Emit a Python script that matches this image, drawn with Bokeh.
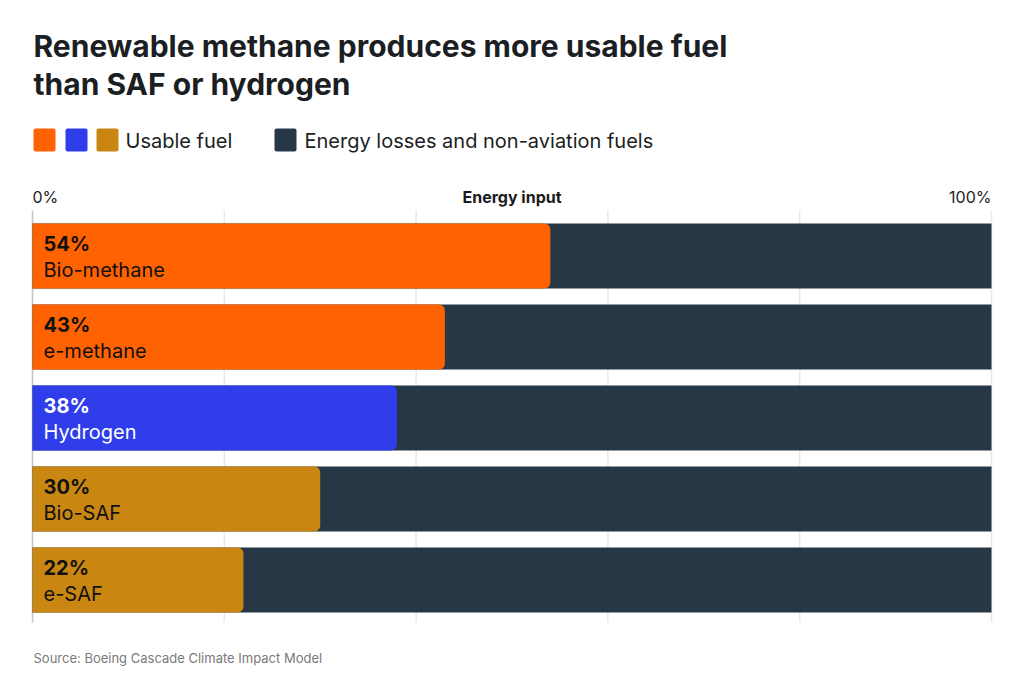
from bokeh.plotting import figure
from bokeh.models import Range1d, ColumnDataSource
from bokeh.core.properties import value
from bokeh.embed import file_html
from bokeh.resources import INLINE

# ---- data ----
fuels = ["Bio-methane", "e-methane", "Hydrogen", "Bio-SAF", "e-SAF"]
usable = [54, 43, 38, 30, 22]
bar_colors = ["#ff6200", "#ff6200", "#2f3deb", "#c98712", "#c98712"]
label_colors = ["#111111", "#111111", "#ffffff", "#111111", "#111111"]
ticks = [0, 20, 40, 60, 80, 100]
loss_color = "#263746"

title_lines = ["Renewable methane produces more usable fuel", "than SAF or hydrogen"]
legend_colors = ["#ff6200", "#2f3deb", "#c98712"]
source_note = "Source: Boeing Cascade Climate Impact Model"

FONT = "Inter"
W, H = 1024, 693
LEFT, RIGHT = 32, 991          # pixel span of 0% .. 100%
S = (RIGHT - LEFT) / 100.0     # pixels per percentage point


def px(xpix):
    """horizontal pixel -> data x"""
    return (xpix - LEFT) / S


p = figure(width=W, height=H, output_backend="svg", toolbar_location=None,
           x_range=Range1d(px(0), px(W)), y_range=Range1d(H, 0),
           x_axis_type=None, y_axis_type=None, min_border=0)
p.outline_line_color = None
p.xgrid.visible = False
p.ygrid.visible = False
p.background_fill_color = "white"

# bar geometry (vertical, in pixels)
first_top, pitch, bar_h = 223, 81, 65
tops = [first_top + i * pitch for i in range(len(fuels))]
centers = [t + bar_h / 2 for t in tops]

# vertical gridlines (the zero line slightly darker)
grid_colors = ["#c4c4c4" if t == 0 else "#e8e8e8" for t in ticks]
p.segment(x0=ticks, x1=ticks, y0=[210] * len(ticks), y1=[622] * len(ticks),
          line_color=grid_colors, line_width=1.5)

src = ColumnDataSource(dict(
    y=centers, usable=usable, color=bar_colors, lcolor=label_colors,
    pct=[f"{v}%" for v in usable], name=fuels,
    ypct=[t + 20 for t in tops], yname=[t + 46 for t in tops],
))

# full energy input (background) and usable share
p.hbar(y="y", left=0, right=100, height=bar_h, source=src,
       fill_color=loss_color, line_color=None)
p.hbar(y="y", left=0, right="usable", height=bar_h, source=src,
       fill_color="color", line_color=None, border_radius=(0, 6, 6, 0))

# in-bar labels
p.text(x=px(43), y="ypct", text="pct", source=src, text_color="lcolor",
       text_font=value(FONT), text_font_size="20px", text_font_style="bold",
       text_baseline="alphabetic")
p.text(x=px(43), y="yname", text="name", source=src, text_color="lcolor",
       text_font=value(FONT), text_font_size="20px",
       text_baseline="alphabetic")

# axis header row
p.text(x=[0], y=[196], text=["0%"], text_font=value(FONT), text_font_size="16px",
       text_color="#222222", text_align="left", text_baseline="alphabetic")
p.text(x=[50], y=[196], text=["Energy input"], text_font=value(FONT),
       text_font_size="16px", text_font_style="bold", text_color="#1a1a1a",
       text_align="center", text_baseline="alphabetic")
p.text(x=[100], y=[196], text=["100%"], text_font=value(FONT), text_font_size="16px",
       text_color="#222222", text_align="right", text_baseline="alphabetic")

# title
p.text(x=[px(33)] * 2, y=[45, 83], text=title_lines, text_font=value(FONT),
       text_font_size="30px", text_font_style="bold", text_color="#1b1e23",
       text_baseline="alphabetic")

# legend
sq_left = [33, 65, 96]
p.quad(left=[px(v) for v in sq_left], right=[px(v + 22) for v in sq_left],
       top=[128] * 3, bottom=[151] * 3, fill_color=legend_colors,
       line_color=None, border_radius=2)
p.quad(left=[px(274)], right=[px(296)], top=[128], bottom=[151],
       fill_color=loss_color, line_color=None, border_radius=2)
p.text(x=[px(125), px(304)], y=[140, 140],
       text=["Usable fuel", "Energy losses and non-aviation fuels"],
       text_font=value(FONT), text_font_size="20px", text_color="#1b1e23",
       text_baseline="alphabetic")

# source
p.text(x=[px(33)], y=[657], text=[source_note], text_font=value(FONT),
       text_font_size="13px", text_color="#7a7a7a", text_baseline="alphabetic")

open("out.html", "w").write(file_html(p, INLINE))
